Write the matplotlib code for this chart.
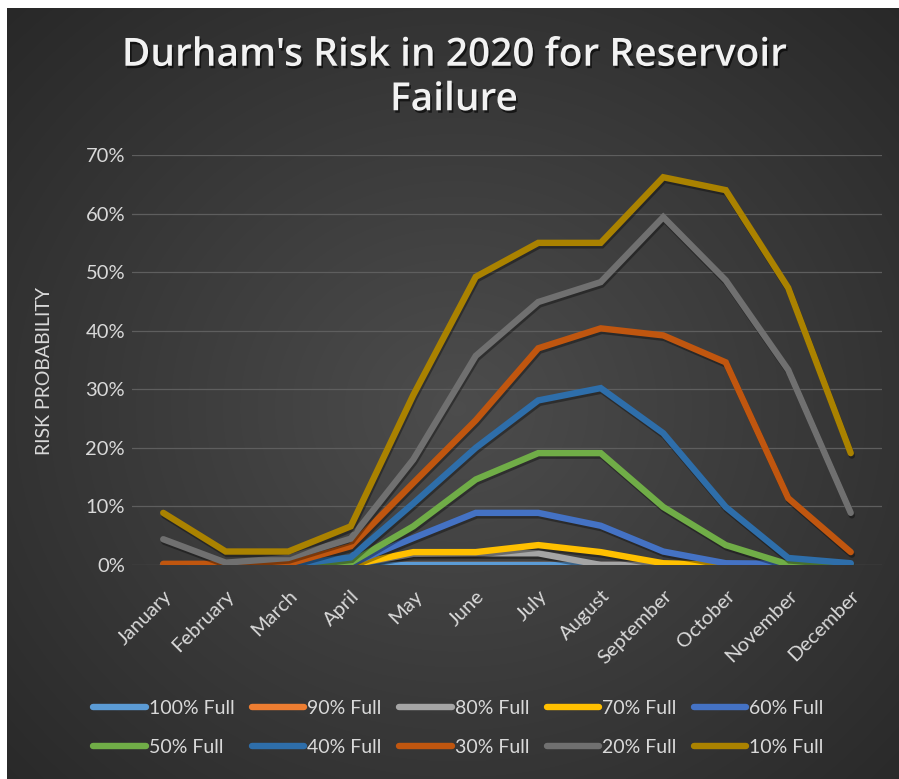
import matplotlib
matplotlib.use("Agg")
import matplotlib.pyplot as plt
import matplotlib.patheffects as pe
import numpy as np

months = ["January", "February", "March", "April", "May", "June", "July",
          "August", "September", "October", "November", "December"]

# risk probability per month, by reservoir fill level
full_100 = [0, 0, 0, 0, 0, 0, 0, 0, 0, 0, 0, 0]
full_90 = [0, 0, 0, 0, 0, 0, 0, 0, 0, 0, 0, 0]
full_80 = [0, 0, 0, 0, 0.019, 0.020, 0.020, 0, 0, 0, 0, 0]
full_70 = [0, 0, 0, 0, 0.022, 0.022, 0.034, 0.022, 0.003, 0, 0, 0]
full_60 = [0, 0, 0, 0.002, 0.046, 0.089, 0.089, 0.067, 0.023, 0.003, 0.002, 0]
full_50 = [0, 0, 0, 0.004, 0.066, 0.146, 0.191, 0.191, 0.099, 0.034, 0.001, 0]
full_40 = [0, 0, 0, 0.013, 0.105, 0.200, 0.281, 0.302, 0.225, 0.099, 0.012, 0.003]
full_30 = [0.002, 0.002, 0.002, 0.032, 0.140, 0.247, 0.370, 0.404, 0.392, 0.346, 0.114, 0.022]
full_20 = [0.044, 0.004, 0.012, 0.045, 0.180, 0.357, 0.449, 0.483, 0.594, 0.486, 0.333, 0.089]
full_10 = [0.089, 0.023, 0.023, 0.066, 0.290, 0.492, 0.550, 0.550, 0.662, 0.640, 0.473, 0.191]

labels = ["100% Full", "90% Full", "80% Full", "70% Full", "60% Full",
          "50% Full", "40% Full", "30% Full", "20% Full", "10% Full"]
series = [full_100, full_90, full_80, full_70, full_60,
          full_50, full_40, full_30, full_20, full_10]
colors = ["#5b9bd5", "#ed7d31", "#a5a5a5", "#ffc000", "#4472c4",
          "#70ad47", "#2e6eaa", "#c0560f", "#707070", "#aa8200"]
# 90% sits under the 100% line in the original
zorders = [3, 2, 4, 5, 6, 7, 8, 9, 10, 11]

plt.rcParams["font.family"] = ["Lato", "DejaVu Sans"]
txt = "#d9d9d9"

fig = plt.figure(figsize=(8.99, 7.79), dpi=100, facecolor="white")

# radial gradient background of the chart area
bg = fig.add_axes([7 / 899, 0, 892 / 899, 771 / 779])
yy, xx = np.mgrid[0:771, 0:892]
r = np.sqrt(((xx - 450) / 620.0) ** 2 + ((yy - 400) / 560.0) ** 2)
shade = 0.30 - 0.14 * np.clip(r, 0, 1)
bg.imshow(np.dstack([shade] * 3), aspect="auto", extent=[0, 1, 0, 1])
bg.axis("off")

ax = fig.add_axes([132 / 899, 1 - 565 / 779, 750 / 899, 410 / 779])
ax.set_facecolor("none")
x = np.arange(len(months))
shadow = [pe.SimpleLineShadow(offset=(0.8, -1.8), shadow_color="black", alpha=0.35), pe.Normal()]
handles = []
for vals, lab, col, z in zip(series, labels, colors, zorders):
    ln, = ax.plot(x, vals, color=col, lw=4.6, label=lab, zorder=z,
                  solid_capstyle="round", solid_joinstyle="miter", path_effects=shadow)
    handles.append(ln)

ax.set_xlim(-0.5, 11.5)
ax.set_ylim(0, 0.7)
ax.set_yticks(np.arange(0, 0.71, 0.1))
ax.set_yticklabels([f"{int(round(v * 100))}%" for v in np.arange(0, 0.71, 0.1)])
ax.set_xticks(x)
ax.set_xticklabels(months, rotation=45, ha="right", va="top", rotation_mode="anchor")
ax.tick_params(axis="both", length=0, colors=txt, labelsize=14.5)
ax.tick_params(axis="y", pad=5)
ax.tick_params(axis="x", pad=16)
ax.grid(axis="y", color="#5e5e5e", lw=0.9)
ax.set_axisbelow(True)
for s in ax.spines.values():
    s.set_visible(False)

ax.set_ylabel("RISK PROBABILITY", color=txt, fontsize=14)
ax.yaxis.set_label_coords(-0.105, 0.473)

fig.text(0.505, 1 - 78 / 779, "Durham's Risk in 2020 for Reservoir\nFailure",
         ha="center", va="center", color="#f2f2f2", fontsize=28, fontweight="semibold",
         family=["Open Sans", "DejaVu Sans"], linespacing=1.15,
         path_effects=[pe.SimplePatchShadow(offset=(1.2, -1.8), shadow_rgbFace="black", alpha=0.6),
                       pe.Normal()])

# legend fills column by column, so interleave the two rows
order = [0, 5, 1, 6, 2, 7, 3, 8, 4, 9]
leg = fig.legend([handles[i] for i in order], [labels[i] for i in order],
                 loc="center", bbox_to_anchor=(0.51, 1 - 728 / 779), ncol=5,
                 frameon=False, fontsize=14, handlelength=2.7, handletextpad=0.15,
                 columnspacing=0.9, labelspacing=1.15)
for t in leg.get_texts():
    t.set_color(txt)
for h in leg.legend_handles:
    h.set_linewidth(4.6)
    h.set_solid_capstyle("round")
    h.set_path_effects([])

fig.savefig("out.png", dpi=100, facecolor="white")
